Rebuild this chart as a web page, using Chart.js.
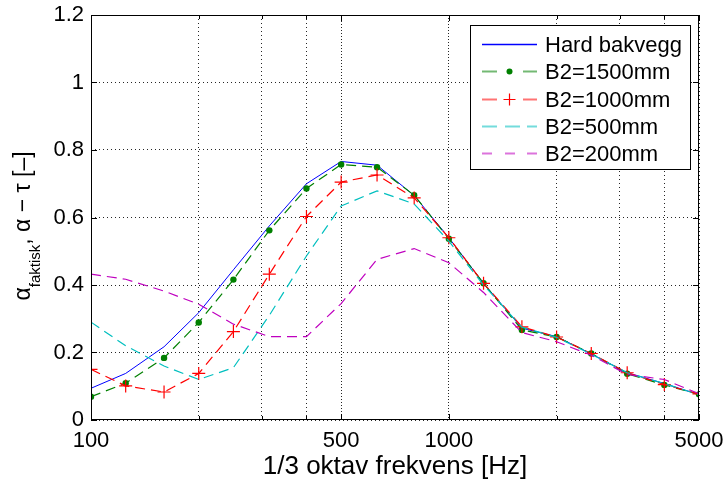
<!DOCTYPE html>
<html>
<head>
<meta charset="utf-8">
<script src="https://cdn.jsdelivr.net/npm/chart.js@4/dist/chart.umd.min.js"></script>
<style>
  html, body { margin: 0; padding: 0; background: #fff; }
  #wrap { width: 723px; height: 483px; }
</style>
</head>
<body>
<div id="wrap"><canvas id="chart" width="723" height="483"></canvas></div>
<script>
// 1/3 octave band centre frequencies
const freqs = [100, 125, 160, 200, 250, 315, 400, 500, 630, 800, 1000, 1250, 1600, 2000, 2500, 3150, 4000, 5000];

const hardBakvegg = [0.094, 0.138, 0.217, 0.318, 0.445, 0.575, 0.700, 0.766, 0.755, 0.665, 0.540, 0.405, 0.272, 0.247, 0.196, 0.140, 0.108, 0.075];
const b2_1500 = [0.069, 0.109, 0.184, 0.289, 0.416, 0.562, 0.686, 0.757, 0.749, 0.666, 0.537, 0.405, 0.267, 0.246, 0.197, 0.137, 0.104, 0.076];
const b2_1000 = [0.150, 0.101, 0.083, 0.138, 0.262, 0.432, 0.603, 0.705, 0.726, 0.658, 0.540, 0.405, 0.276, 0.246, 0.197, 0.140, 0.105, 0.077];
const b2_500 = [0.290, 0.220, 0.160, 0.120, 0.155, 0.310, 0.486, 0.634, 0.679, 0.640, 0.530, 0.400, 0.275, 0.245, 0.195, 0.140, 0.108, 0.075];
const b2_200 = [0.432, 0.417, 0.382, 0.343, 0.284, 0.247, 0.247, 0.345, 0.476, 0.508, 0.466, 0.378, 0.259, 0.232, 0.192, 0.135, 0.120, 0.078];

const seriesNames = ["Hard bakvegg", "B2=1500mm", "B2=1000mm", "B2=500mm", "B2=200mm"];

// x ticks (grid) and which of them carry a label
const xGridTicks = [100, 200, 300, 400, 500, 1000, 2000, 3000, 4000, 5000];
const xLabelTicks = [100, 500, 1000, 5000];
const yTicks = [0, 0.2, 0.4, 0.6, 0.8, 1, 1.2];

const FONT = "'Liberation Sans', Arial, Helvetica, sans-serif";

function toPoints(vals) {
  return freqs.map((f, i) => ({ x: f, y: vals[i] }));
}

function noLabelPadding(scale) {
  scale.paddingTop = 0;
  scale.paddingBottom = 0;
  scale.paddingLeft = 0;
  scale.paddingRight = 0;
}

// frame with inward tick marks (matlab style)
const framePlugin = {
  id: "frame",
  afterDatasetsDraw(chart) {
    const { ctx, chartArea: a, scales } = chart;
    ctx.save();
    ctx.strokeStyle = "#000";
    ctx.lineWidth = 1;
    ctx.setLineDash([]);
    ctx.strokeRect(a.left + 0.5, a.top + 0.5, a.right - a.left - 1, a.bottom - a.top - 1);
    ctx.beginPath();
    yTicks.forEach(v => {
      const y = Math.round(scales.y.getPixelForValue(v)) + 0.5;
      ctx.moveTo(a.left, y); ctx.lineTo(a.left + 6, y);
      ctx.moveTo(a.right, y); ctx.lineTo(a.right - 6, y);
    });
    xGridTicks.forEach(v => {
      const x = Math.round(scales.x.getPixelForValue(v)) + 0.5;
      const len = xLabelTicks.includes(v) ? 6 : 4;
      ctx.moveTo(x, a.bottom); ctx.lineTo(x, a.bottom - len);
      ctx.moveTo(x, a.top); ctx.lineTo(x, a.top + len);
    });
    ctx.stroke();
    ctx.restore();
  }
};

// boxed legend inside the plot, like the original
const legendPlugin = {
  id: "boxLegend",
  afterDatasetsDraw(chart) {
    const ctx = chart.ctx;
    const bx = 470, by = 25, bw = 220, bh = 144;
    ctx.save();
    ctx.fillStyle = "#fff";
    ctx.fillRect(bx, by, bw, bh);
    ctx.strokeStyle = "#000";
    ctx.lineWidth = 1;
    ctx.strokeRect(bx + 0.5, by + 0.5, bw, bh);
    const x0 = 482, x1 = 537, xm = 509.5;
    chart.data.datasets.forEach((ds, i) => {
      const y = Math.round(44 + i * 27.3) + 0.5;
      ctx.strokeStyle = ds.borderColor;
      ctx.setLineDash([]);
      if (i === 0) {
        ctx.lineWidth = 1.3;
        ctx.globalAlpha = 1;
        ctx.beginPath(); ctx.moveTo(x0, y); ctx.lineTo(x1, y); ctx.stroke();
      } else {
        ctx.lineWidth = 2;
        ctx.globalAlpha = 0.55;
        let segs;
        if (i === 1 || i === 2) segs = [[482, 497], [523, 537]];
        else if (i === 3) segs = [[482, 497], [505, 520], [527, 537]];
        else segs = [[482, 492], [505, 515], [527, 537]];
        ctx.beginPath();
        segs.forEach(s => { ctx.moveTo(s[0], y); ctx.lineTo(s[1], y); });
        ctx.stroke();
        ctx.globalAlpha = 1;
        if (i === 1) {
          ctx.fillStyle = ds.pointBackgroundColor;
          ctx.beginPath(); ctx.arc(xm, y, 3, 0, Math.PI * 2); ctx.fill();
        } else if (i === 2) {
          ctx.lineWidth = 1.2;
          ctx.beginPath();
          ctx.moveTo(xm - 6, y); ctx.lineTo(xm + 6, y);
          ctx.moveTo(xm, y - 6); ctx.lineTo(xm, y + 6);
          ctx.stroke();
        }
      }
      ctx.fillStyle = "#000";
      ctx.font = "22px " + FONT;
      ctx.textAlign = "left";
      ctx.textBaseline = "middle";
      ctx.fillText(seriesNames[i], 545, y + 1);
    });
    ctx.restore();
  }
};

// y axis title with subscript
const yTitlePlugin = {
  id: "yTitle",
  afterDraw(chart) {
    const ctx = chart.ctx;
    const mainFont = "23px " + FONT;
    const subFont = "15px " + FONT;
    const parts = [
      { t: "\u03B1", f: mainFont, dy: 0 },
      { t: "faktisk", f: subFont, dy: 10 },
      { t: ", \u03B1 \u2212 \u03C4 [\u2013]", f: mainFont, dy: 0 }
    ];
    ctx.save();
    let total = 0;
    parts.forEach(p => { ctx.font = p.f; p.w = ctx.measureText(p.t).width; total += p.w; });
    ctx.translate(30, 226);
    ctx.rotate(-Math.PI / 2);
    ctx.fillStyle = "#000";
    ctx.textBaseline = "alphabetic";
    ctx.textAlign = "left";
    let x = -total / 2;
    parts.forEach(p => { ctx.font = p.f; ctx.fillText(p.t, x, p.dy); x += p.w; });
    ctx.restore();
  }
};

const dash = [10, 6];

new Chart(document.getElementById("chart"), {
  type: "line",
  data: {
    datasets: [
      { data: toPoints(hardBakvegg), borderColor: "#0000ff", borderWidth: 1, pointRadius: 0, order: 4 },
      { data: toPoints(b2_1500), borderColor: "#008000", borderWidth: 1.2, borderDash: dash,
        pointRadius: 3.2, pointStyle: "circle", pointBackgroundColor: "#008000", pointBorderColor: "#008000", pointBorderWidth: 0, order: 3 },
      { data: toPoints(b2_1000), borderColor: "#ff0000", borderWidth: 1.2, borderDash: dash,
        pointRadius: 6.5, pointStyle: "cross", pointBorderColor: "#ff0000", pointBorderWidth: 1.2, order: 2 },
      { data: toPoints(b2_500), borderColor: "#00bfbf", borderWidth: 1.2, borderDash: dash, pointRadius: 0, order: 1 },
      { data: toPoints(b2_200), borderColor: "#bf00bf", borderWidth: 1.2, borderDash: dash, pointRadius: 0, order: 0 }
    ]
  },
  options: {
    responsive: false,
    animation: false,
    events: [],
    layout: { padding: { left: 0, right: 24, top: 15, bottom: 0 } },
    elements: { line: { tension: 0, fill: false } },
    plugins: { legend: { display: false }, tooltip: { enabled: false } },
    scales: {
      x: {
        type: "logarithmic",
        min: 100,
        max: 5000,
        afterBuildTicks(scale) {
          scale.ticks = xGridTicks.map(v => ({ value: v }));
        },
        afterFit(scale) { scale.height = 63; noLabelPadding(scale); },
        ticks: {
          autoSkip: false,
          maxRotation: 0,
          padding: 8,
          color: "#000",
          font: { family: FONT, size: 22 },
          callback: v => (xLabelTicks.includes(v) ? String(v) : "")
        },
        grid: { color: "rgba(0,0,0,0.85)", lineWidth: 1, drawTicks: false },
        border: {
          display: false,
          dash: ctx => (ctx.tick && (ctx.tick.value === 500 || ctx.tick.value === 1000)) ? [1, 2] : [1, 3]
        },
        title: {
          display: true,
          text: "1/3 oktav frekvens [Hz]",
          color: "#000",
          font: { family: FONT, size: 26 },
          padding: { top: 0, bottom: 1 }
        }
      },
      y: {
        min: 0,
        max: 1.2,
        afterBuildTicks(scale) {
          scale.ticks = yTicks.map(v => ({ value: v }));
        },
        afterFit(scale) { scale.width = 91; noLabelPadding(scale); },
        ticks: {
          padding: 7,
          color: "#000",
          font: { family: FONT, size: 22 },
          callback: v => String(Math.round(v * 10) / 10)
        },
        grid: { color: "rgba(0,0,0,0.85)", lineWidth: 1, drawTicks: false },
        border: { display: false, dash: [1, 3] }
      }
    }
  },
  plugins: [framePlugin, legendPlugin, yTitlePlugin]
});
</script>
</body>
</html>
